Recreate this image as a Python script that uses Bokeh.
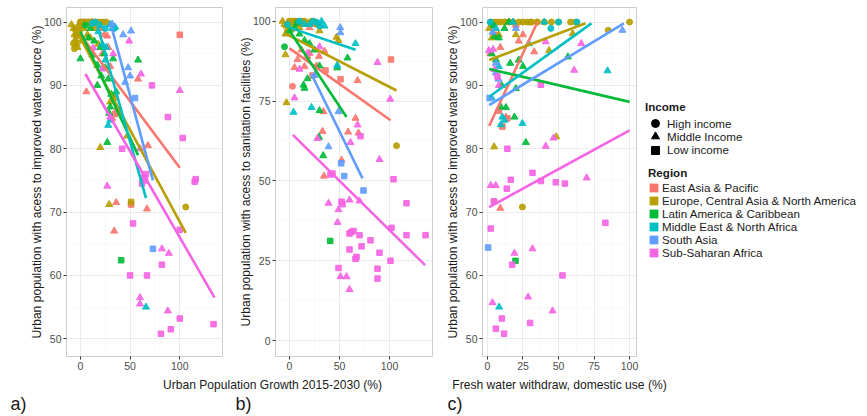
from bokeh.plotting import figure
from bokeh.models import (ColumnDataSource, FixedTicker, Legend, LegendItem, Label, Range1d)
from bokeh.layouts import row, column
from bokeh.embed import file_html
from bokeh.resources import INLINE
from bokeh.core.properties import value

# ---------------- categories ----------------
REGIONS = ["East Asia & Pacific", "Europe, Central Asia & North America",
           "Latin America & Caribbean", "Middle East & North Africa",
           "South Asia", "Sub-Saharan Africa"]
REGION_COLORS = ["#F8766D", "#B79F00", "#00BA38", "#00BFC4", "#619CFF", "#F564E3"]
INCOME = ["High income", "Middle Income", "Low income"]
INCOME_CODES = ["H", "M", "L"]
INCOME_MARKERS = ["circle", "triangle", "square"]

# ---------------- tick values ----------------
A_XTICKS = [0, 50, 100]
A_YTICKS = [50, 60, 70, 80, 90, 100]
B_XTICKS = [0, 50, 100]
B_YTICKS = [0, 25, 50, 75, 100]
C_XTICKS = [0, 25, 50, 75, 100]
C_YTICKS = [50, 60, 70, 80, 90, 100]

# ---------------- panel a: growth (x) vs improved water (y) ----------------
A_EAP = [(0,100,'H'),(3,100,'H'),(5,99.8,'M'),(8,100,'H'),(12,100,'M'),(16,99.5,'M'),(20,99,'M'),
         (24,98,'M'),(27,97.8,'M'),(6,89,'M'),(22,95,'M'),(28,96,'M'),(35,85.5,'L'),(37,86,'L'),
         (58,91,'M'),(68,80.5,'M'),(36,71.5,'M'),(34,67,'M'),(51,71.2,'L'),(67,70.5,'M'),
         (100,98,'L'),(30,93,'M'),(32,84.8,'M'),(2,99.5,'M')]
A_ECA = [(-9,99.6,'M'),(-7,99,'M'),(-6,98,'M'),(-5,97.3,'M'),(-4,96.6,'M'),(-3,96,'M'),(-5,98.8,'H'),
         (-2,99.3,'H'),(0,100,'H'),(2,100,'H'),(4,100,'H'),(6,100,'H'),(8,100,'H'),(10,100,'H'),
         (12,100,'H'),(15,100,'H'),(18,100,'H'),(20,100,'H'),(23,100,'H'),(26,100,'H'),(-1,98.5,'H'),
         (3,99,'M'),(7,98,'M'),(10,97.5,'M'),(14,99,'M'),(18,96.5,'M'),(20,80.2,'M'),(29,71.2,'M'),
         (30,87.4,'M'),(35,88,'M'),(47,82,'M'),(51,71.6,'L'),(106,70.8,'H'),(-7,96.6,'H'),
         (-6,95.8,'H'),(-4,97.8,'H'),(1,97,'M')]
A_LAC = [(0,94.2,'M'),(17,93.2,'M'),(21,91.5,'M'),(33,94.2,'M'),(58,94,'M'),(17,90,'M'),(27,81,'M'),
         (30,86.6,'M'),(31,88.6,'M'),(41,62.4,'L'),(5,99.5,'H'),(10,99,'M'),(14,97,'M'),(8,97.5,'M'),
         (24,95,'M'),(20,96,'M'),(29,85.6,'M'),(28,91,'M'),(36,89,'M'),(12,94.8,'M'),(25,92.8,'M')]
A_MENA = [(15,100,'H'),(20,99.5,'M'),(25,99,'H'),(30,99.6,'M'),(32,99,'M'),(34,99,'H'),(18,98.5,'M'),
          (22,96.5,'M'),(25,94,'M'),(28,83.7,'M'),(30,84.5,'M'),(66,55,'M'),(12,99.8,'H'),(26,96,'M'),
          (35,99.2,'M')]
A_SA = [(43,98,'M'),(51,98.6,'M'),(48,92.8,'M'),(50,91.5,'M'),(55,88,'L'),(73,64.2,'L'),(32,99.7,'M'),
        (45,90.5,'M')]
A_SSA = [(49,97,'M'),(61,91.8,'M'),(72,90,'L'),(88,85,'L'),(100,89.2,'M'),(103,81.7,'L'),(27,74.1,'M'),
         (42,80,'L'),(64,75.5,'L'),(66,76,'L'),(115,74.8,'L'),(116,75.2,'L'),(53,68.2,'L'),(100,67.2,'L'),
         (82,64.2,'M'),(89,63.5,'M'),(82,61.7,'L'),(50,60,'L'),(67,60,'L'),(60,56.5,'M'),(60,55.5,'M'),
         (88,54.4,'M'),(91,51.5,'L'),(81,50.8,'L'),(100,53.2,'L'),(134,52.3,'L'),(30,85,'M'),
         (13,95.9,'M'),(22,92.6,'M'),(33,95,'M'),(62,74.5,'L'),(60,80,'M'),(65,75,'L')]
# fitted lines (x0, y0, x1, y1) in region order
A_FIT = [(0,98.0,100,77.0),(-7,99.5,106,66.7),(0,98.5,58,79.0),(17,99.5,66,72.2),
         (30,100,73,75.0),(5,91.8,135,56.5)]

# ---------------- panel b: growth (x) vs sanitation (y) ----------------
B_EAP = [(0,100,'H'),(5,100,'H'),(10,99.5,'M'),(14,99,'M'),(20,98,'M'),(25,99,'M'),(3,79.6,'H'),
         (5,85.5,'M'),(15,85.8,'M'),(27,86,'M'),(8,88,'M'),(18,89,'M'),(23,83,'L'),(35,90.6,'M'),
         (29.5,89,'M'),(36,84.6,'L'),(51,81.8,'L'),(68,81.4,'M'),(101.5,88,'L'),(34,71.7,'M'),
         (66,69.6,'M'),(69,65,'M'),(58.6,65.3,'M'),(33,65.5,'M'),(52,56.5,'M'),(34.5,51.5,'M'),
         (12,91,'M'),(20,90,'M')]
B_ECA = [(-7,100,'M'),(-5,99,'M'),(-3,98.5,'M'),(0,100,'H'),(3,100,'H'),(6,100,'H'),(9,100,'H'),
         (12,100,'H'),(15,100,'H'),(18,99.5,'H'),(22,100,'H'),(25,99.8,'H'),(28,99,'H'),(-4,96,'M'),
         (-2,97,'H'),(2,97.5,'M'),(-4,89.5,'M'),(-3,74.5,'M'),(47,95,'M'),(49,94,'M'),(107,61,'H'),
         (10,98,'M'),(5,99,'M'),(30,97,'M'),(1,98.6,'H')]
B_LAC = [(-5,92,'H'),(0,97,'M'),(5,98,'M'),(10,96,'M'),(15,94,'M'),(20,93,'M'),(25,91,'M'),(14,80,'M'),
         (15,79,'M'),(18,82,'M'),(30,86,'M'),(47.7,85.4,'M'),(58,88.5,'M'),(29.5,63.7,'M'),
         (33.7,57.9,'M'),(40.7,31.2,'L'),(30,72,'M'),(8,99.5,'H')]
B_MENA = [(24,100,'H'),(20,99,'M'),(28,99.5,'M'),(30,98.5,'H'),(32,100,'M'),(15,99,'M'),(10,100,'H'),
          (22,73,'M'),(47.7,86.2,'M'),(66,93,'M'),(-2,99,'H'),(35,98.5,'M'),(4,71.5,'M')]
B_SA = [(50.7,98,'M'),(51,96.4,'M'),(39,60.7,'M'),(49,71.7,'M'),(51.7,55.5,'L'),(54.7,51.5,'L'),
        (74,47,'L'),(25,83,'M')]
B_SSA = [(88,87.1,'M'),(100.7,75.6,'M'),(68,67.5,'M'),(71,64,'L'),(61,62,'M'),(90,56.7,'M'),(41,52,'L'),
         (43,52.3,'L'),(104,50.5,'L'),(39,43,'M'),(52,43.5,'L'),(53,42.7,'L'),(60,44,'M'),(70,43.7,'M'),
         (117,43,'L'),(49,41,'M'),(48,37,'M'),(60,33.5,'L'),(62,34,'L'),(64,34.3,'L'),(70,33,'L'),
         (81,31.4,'L'),(102,35.3,'L'),(117,33,'L'),(136,33,'L'),(60,28.5,'L'),(66,25.6,'L'),
         (67,26.2,'L'),(90,27.5,'L'),(101,25,'L'),(72,29.5,'L'),(49,22.7,'L'),(51,20,'M'),(57,20,'M'),
         (60,16,'M'),(88,22.5,'L'),(88,19.4,'L'),(28,63.3,'M'),(10,85,'M'),(18,90,'M'),(30,92,'M'),
         (5,76,'M')]
B_FIT = [(0,91.5,101,69.0),(-5,96.3,107,78.3),(0,97.0,57,70.0),(0,98.0,66,91.1),
         (22,83.4,73,50.8),(3.4,64.4,135.6,23.6)]

# ---------------- panel c: fresh water withdraw (x) vs improved water (y) ----------------
C_EAP = [(1.9,95,'M'),(13,85,'M'),(10.5,83.5,'L'),(9,70.6,'M'),(32.9,95.3,'M'),(12,100,'H'),(15,100,'M'),
         (20,99.5,'M'),(25,98,'M'),(5,98,'L'),(30,100,'H'),(35,100,'H'),(8,86,'L'),(14,84.8,'L'),
         (22,97,'M'),(9,96,'M'),(4,99.6,'M')]
C_ECA = [(2,100,'H'),(5,100,'H'),(7,100,'H'),(9,100,'H'),(12,100,'H'),(15,100,'H'),(18,100,'H'),
         (22,100,'H'),(25,100,'H'),(28,100,'H'),(31,100,'H'),(35,100,'H'),(40,100,'H'),(45,100,'H'),
         (50,100,'H'),(58.5,100,'H'),(62,100,'H'),(85,98.7,'H'),(100,100,'H'),(1.2,99,'M'),
         (3,97.5,'M'),(8,98,'M'),(20,98,'M'),(43.4,95.5,'M'),(60,98.2,'M'),(4.7,80.3,'M'),
         (48.4,81.9,'M'),(24.6,70.8,'H'),(4.7,71.7,'H')]
C_LAC = [(5,97.7,'M'),(8,97.5,'M'),(9.4,86.6,'M'),(13,86.5,'M'),(19,85,'M'),(27,81,'M'),(19.7,62.3,'L'),
         (56.6,94.5,'M'),(4,99.5,'H'),(12,99,'M'),(16,93.5,'M'),(25,93,'M'),(3,95,'M'),(20,89.5,'M'),
         (15,100,'M'),(6,94,'M'),(10,90,'M'),(22,94,'M')]
C_MENA = [(10.5,85,'M'),(12,84.5,'M'),(24.6,84,'M'),(9.4,83.8,'M'),(29,96.6,'M'),(44.6,99,'H'),
          (63,100,'H'),(84.5,92.3,'M'),(8.2,55,'M'),(2,100,'H'),(6,99,'M'),(8,93,'M'),(18,100,'M'),
          (40,100,'M'),(50,100,'H'),(3,88,'M')]
C_SA = [(3.6,98.4,'M'),(5.8,92,'M'),(7.7,91,'M'),(95,98.7,'M'),(0.5,64.4,'L'),(20,99,'M'),(1.5,88,'L'),
        (6,93.5,'M')]
C_SSA = [(1,95.5,'M'),(4,95.7,'M'),(7,91.4,'L'),(14,80,'L'),(2.3,74.2,'M'),(5.8,74.2,'M'),(4.5,71.7,'L'),
         (16.4,75.1,'L'),(13.6,73.7,'L'),(31.7,76.2,'L'),(37.6,74.9,'L'),(48.1,74.7,'L'),(54.5,74.5,'L'),
         (46.5,81.7,'M'),(41,80.4,'M'),(2.3,67.4,'L'),(19,63.5,'M'),(17.4,61.7,'L'),(31.7,64.2,'M'),
         (52.8,60,'L'),(3.5,55.7,'M'),(10.1,53.2,'L'),(5.9,51.6,'L'),(11.7,50.8,'L'),(28.6,56.6,'M'),
         (30,52.5,'L'),(45.8,54.4,'M'),(41,96.9,'M'),(37.6,90.1,'L'),(66,96.6,'M'),(61,92.4,'M'),
         (69.8,75.4,'M'),(83,68.3,'L'),(8,90,'M'),(5,92.5,'M')]
C_FIT = [(1.2,83.6,35.2,100),(1.2,94.0,69,99.8),(1.2,92.6,100,87.4),(1.2,88.2,73.2,99.8),
         (1.2,86.9,96,99.8),(1.2,70.8,100,82.9)]

FONT = "Liberation Sans"
MARKER_SIZE = {"circle": 6, "triangle": 7, "square": 5.5}
TOP, FRAME_H, BOTTOM = 7, 349, 20
TITLE_FS = "12.1px"
LEGEND_FS = "11.6px"


def minor_between(ticks):
    return [(a + b) / 2 for a, b in zip(ticks[:-1], ticks[1:])]


def make_panel(xr, yr, xticks, yticks, ylabel, groups, fits, bl, br, fw):
    p = figure(frame_width=fw, frame_height=FRAME_H, x_range=Range1d(*xr), y_range=Range1d(*yr),
               output_backend="svg", toolbar_location=None,
               min_border_left=bl, min_border_right=br, min_border_top=TOP, min_border_bottom=BOTTOM)
    p.background_fill_color = "white"
    p.border_fill_color = "white"
    p.outline_line_color = "#cccccc"
    p.outline_line_width = 1

    p.xaxis.ticker = FixedTicker(ticks=xticks, minor_ticks=minor_between(xticks))
    p.yaxis.ticker = FixedTicker(ticks=yticks, minor_ticks=minor_between(yticks))
    for ax in (p.xaxis[0], p.yaxis[0]):
        ax.axis_line_color = None
        ax.major_tick_line_color = "#333333"
        ax.major_tick_in = 0
        ax.major_tick_out = 3
        ax.minor_tick_line_color = None
        ax.major_label_text_font = FONT
        ax.major_label_text_font_size = "10.5px"
        ax.major_label_text_color = "#4d4d4d"
        ax.major_label_standoff = 1
        ax.axis_label_text_font = FONT
        ax.axis_label_text_font_size = TITLE_FS
        ax.axis_label_text_font_style = "normal"
        ax.axis_label_text_color = "#1a1a1a"
        ax.axis_label_standoff = -3
    p.yaxis.axis_label = ylabel

    p.grid.grid_line_color = "#ebebeb"
    p.grid.grid_line_width = 1
    p.grid.minor_grid_line_color = "#f5f5f5"
    p.grid.minor_grid_line_width = 0.6

    for color, pts in zip(REGION_COLORS, groups):
        xs = [t[0] for t in pts]
        ys = [t[1] for t in pts]
        mk = [INCOME_MARKERS[INCOME_CODES.index(t[2])] for t in pts]
        sz = [MARKER_SIZE[m] for m in mk]
        src = ColumnDataSource(dict(x=xs, y=ys, marker=mk, size=sz))
        p.scatter("x", "y", marker="marker", size="size", source=src,
                  fill_color=color, line_color=color, fill_alpha=0.9, line_alpha=0.9)

    fsrc = ColumnDataSource(dict(
        x0=[f[0] for f in fits], y0=[f[1] for f in fits],
        x1=[f[2] for f in fits], y1=[f[3] for f in fits], c=REGION_COLORS))
    p.segment("x0", "y0", "x1", "y1", source=fsrc, line_color="c", line_width=2.6, line_cap="butt")
    return p


pa = make_panel((-14, 143), (47.2, 102.3), A_XTICKS, A_YTICKS,
                "Urban population with acess to improved water source (%)",
                [A_EAP, A_ECA, A_LAC, A_MENA, A_SA, A_SSA], A_FIT, 66, 10, 156)
pb = make_panel((-14, 143), (-5, 104.3), B_XTICKS, B_YTICKS,
                "Urban population with acess to sanitation facilities (%)",
                [B_EAP, B_ECA, B_LAC, B_MENA, B_SA, B_SSA], B_FIT, 43, 10, 157)
pc = make_panel((-3.5, 104.9), (47.2, 102.3), C_XTICKS, C_YTICKS,
                "Urban population with acess to improved water source (%)",
                [C_EAP, C_ECA, C_LAC, C_MENA, C_SA, C_SSA], C_FIT, 40, 5, 154)

# ---------------- legend panel ----------------
leg = figure(frame_width=226, frame_height=FRAME_H, x_range=Range1d(0, 1), y_range=Range1d(0, 1),
             x_axis_location=None, y_axis_location=None, output_backend="svg",
             toolbar_location=None, min_border_left=0, min_border_right=0,
             min_border_top=TOP, min_border_bottom=BOTTOM)
leg.outline_line_color = None
leg.grid.visible = False

# dummy renderers (one point far outside the visible range) used only for legend keys
inc_renderers = []
for m in INCOME_MARKERS:
    inc_renderers.append(leg.scatter(x=[-10], y=[-10], marker=m, color="black", size=8))
reg_renderers = []
for c in REGION_COLORS:
    reg_renderers.append(leg.quad(left=[-10], right=[-9], top=[-9], bottom=[-10],
                                  fill_color=c, line_color=None))


def style_legend(lg):
    lg.padding = 0
    lg.margin = 0
    lg.border_line_color = None
    lg.background_fill_alpha = 0
    lg.label_text_font = FONT
    lg.label_text_font_size = LEGEND_FS
    lg.label_text_color = "#1a1a1a"
    lg.title_text_font = FONT
    lg.title_text_font_size = LEGEND_FS
    lg.title_text_font_style = "bold"
    lg.title_text_color = "#1a1a1a"
    leg.add_layout(lg)


FRAME_BOTTOM = TOP + FRAME_H   # page y of the frame's lower edge
INC_ROWS = [123, 136, 149.5]   # page y of income key centres
for i, (name, r) in enumerate(zip(INCOME, inc_renderers)):
    lg = Legend(items=[LegendItem(label=value(name), renderers=[r])],
                location=(4, FRAME_BOTTOM - (INC_ROWS[i] + 10)))
    if i == 0:
        lg.title = "Income"
        lg.title_standoff = 0
    lg.glyph_width = 20
    lg.glyph_height = 20
    lg.label_height = 20
    lg.label_standoff = 2
    lg.spacing = 0
    style_legend(lg)

# region keys: one legend per row so each row sits at its own position
REG_ROWS = [187, 200, 213, 226, 239, 252]   # page y of region key centres
ROW_H = 14
for i, (name, r) in enumerate(zip(REGIONS, reg_renderers)):
    lg = Legend(items=[LegendItem(label=value(name), renderers=[r])],
                location=(7, FRAME_BOTTOM - (REG_ROWS[i] + ROW_H / 2)))
    if i == 0:
        lg.title = "Region"
        lg.title_standoff = 1
    lg.glyph_width = 11
    lg.glyph_height = 11
    lg.label_height = ROW_H
    lg.label_standoff = 3
    lg.spacing = 0
    style_legend(lg)

# ---------------- caption strip ----------------
CAP_H = 39
cap = figure(width=867, height=CAP_H, x_range=Range1d(0, 867), y_range=Range1d(0, CAP_H),
             x_axis_location=None, y_axis_location=None, output_backend="svg",
             toolbar_location=None, min_border=0)
cap.outline_line_color = None
cap.grid.visible = False
CAPTIONS = [("Urban Population Growth 2015-2030 (%)", 272, 31, TITLE_FS, "center"),
            ("Fresh water withdraw, domestic use (%)", 559, 31, TITLE_FS, "center"),
            ("a)", 10, 12, "18px", "left"),
            ("b)", 235, 12, "18px", "left"),
            ("c)", 447, 12, "18px", "left")]
for txt, x, y, fs, al in CAPTIONS:
    cap.add_layout(Label(x=x, y=y, x_units="screen", y_units="screen", text=txt,
                         text_font=FONT, text_font_size=fs, text_align=al,
                         text_baseline="middle", text_color="#1a1a1a"))

layout = column(row(pa, pb, pc, leg), cap)
open("out.html", "w").write(file_html(layout, INLINE))
